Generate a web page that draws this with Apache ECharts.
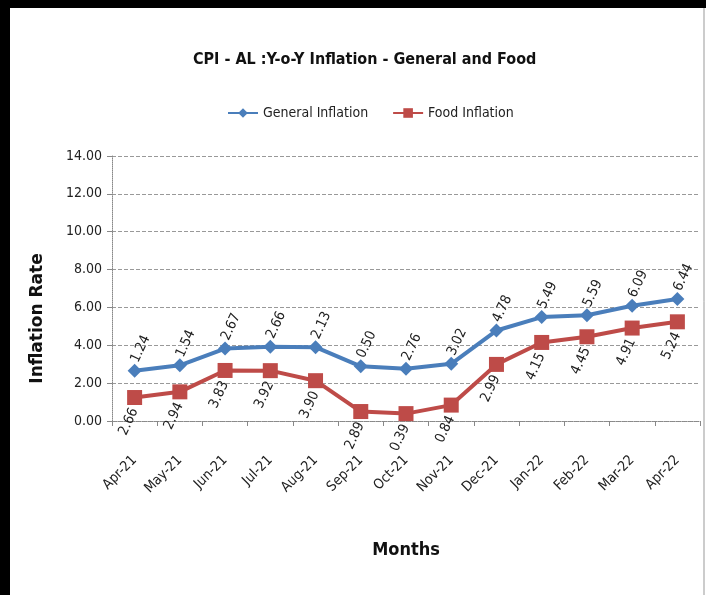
<!DOCTYPE html>
<html>
<head>
<meta charset="utf-8">
<script src="https://cdn.jsdelivr.net/npm/echarts@6/dist/echarts.min.js"></script>
<style>
  html, body { margin: 0; padding: 0; background: #fff; }
  #chart { width: 706px; height: 595px; }
</style>
</head>
<body>
<div id="chart"></div>
<script>
const months = ['Apr-21', 'May-21', 'Jun-21', 'Jul-21', 'Aug-21', 'Sep-21', 'Oct-21',
  'Nov-21', 'Dec-21', 'Jan-22', 'Feb-22', 'Mar-22', 'Apr-22']
const generalInflation = [2.66, 2.94, 3.83, 3.92, 3.90, 2.89, 2.76, 3.02, 4.78, 5.49, 5.59, 6.09, 6.44]
const foodInflation = [1.24, 1.54, 2.67, 2.66, 2.13, 0.50, 0.39, 0.84, 2.99, 4.15, 4.45, 4.91, 5.24]
// label texts as printed in the source (first months are swapped between lines)
const generalLabels = ['1.24', '1.54', '2.67', '2.66', '2.13', '0.50', '2.76', '3.02', '4.78', '5.49', '5.59', '6.09', '6.44']
const foodLabels = ['2.66', '2.94', '3.83', '3.92', '3.90', '2.89', '0.39', '0.84', '2.99', '4.15', '4.45', '4.91', '5.24']
const yTicks = [0, 14, 2]

const narrow = '"Liberation Sans Narrow", "DejaVu Sans Condensed", Roboto, sans-serif'

const chart = echarts.init(document.getElementById('chart'), null, { renderer: 'canvas' })

chart.setOption({
  backgroundColor: '#fff',
  animation: false,
  title: {
    text: 'CPI - AL :Y-o-Y Inflation - General and Food',
    left: 188,
    top: 47,
    textStyle: { fontFamily: narrow, fontSize: 16, fontWeight: 'bold', color: '#111' }
  },
  legend: {
    top: 101,
    left: 222,
    itemWidth: 30,
    itemHeight: 12,
    itemGap: 24,
    textStyle: { fontFamily: narrow, fontSize: 14, color: '#222' },
    data: ['General Inflation', 'Food Inflation']
  },
  graphic: [
    { type: 'rect', shape: { x: 0, y: 0, width: 10, height: 595 }, style: { fill: '#000' } },
    { type: 'rect', shape: { x: 0, y: 0, width: 706, height: 8 }, style: { fill: '#000' } },
    { type: 'line', shape: { x1: 704, y1: 8, x2: 704, y2: 595 }, style: { stroke: '#999', lineWidth: 1 } }
  ],
  grid: { left: 112, right: 6, top: 156, bottom: 174 },
  xAxis: {
    type: 'category',
    data: months,
    boundaryGap: true,
    name: 'Months',
    nameLocation: 'middle',
    nameGap: 120,
    nameTextStyle: { fontFamily: narrow, fontSize: 18, fontWeight: 'bold', color: '#111' },
    axisLine: { lineStyle: { color: '#888', type: 'dotted' } },
    axisTick: { show: true, length: 5, lineStyle: { color: '#888' } },
    axisLabel: {
      rotate: 45,
      margin: 37,
      fontFamily: narrow,
      fontSize: 14,
      color: '#222',
      interval: 0
    }
  },
  yAxis: {
    type: 'value',
    min: yTicks[0],
    max: yTicks[1],
    interval: yTicks[2],
    name: 'Inflation Rate',
    nameLocation: 'middle',
    nameRotate: 90,
    nameGap: 66,
    nameTextStyle: {
      fontFamily: '"DejaVu Sans", Verdana, sans-serif',
      fontSize: 17,
      fontWeight: 'bold',
      color: '#111',
      padding: [0, 60, 0, 0]
    },
    axisLine: { show: true, lineStyle: { color: '#888', type: 'dotted' } },
    axisTick: { show: true, length: 5, lineStyle: { color: '#888' } },
    axisLabel: {
      margin: 10,
      fontFamily: narrow,
      fontSize: 14,
      color: '#222',
      formatter: v => v.toFixed(2)
    },
    splitLine: { lineStyle: { color: '#999', type: 'dashed' } }
  },
  series: [
    {
      name: 'General Inflation',
      type: 'line',
      data: generalInflation,
      symbol: 'diamond',
      symbolSize: 14,
      z: 3,
      itemStyle: { color: '#4a7ebb' },
      lineStyle: { color: '#4a7ebb', width: 4 },
      label: {
        show: true,
        position: 'top',
        distance: 2,
        rotate: 65,
        align: 'left',
        verticalAlign: 'middle',
        fontFamily: narrow,
        fontSize: 14,
        color: '#222',
        formatter: p => generalLabels[p.dataIndex]
      }
    },
    {
      name: 'Food Inflation',
      type: 'line',
      data: foodInflation,
      symbol: 'rect',
      symbolSize: 15,
      z: 2,
      itemStyle: { color: '#be4b48' },
      lineStyle: { color: '#be4b48', width: 4 },
      label: {
        show: true,
        position: 'bottom',
        distance: 4,
        rotate: 65,
        align: 'right',
        verticalAlign: 'middle',
        fontFamily: narrow,
        fontSize: 14,
        color: '#222',
        formatter: p => foodLabels[p.dataIndex]
      }
    }
  ]
})
</script>
</body>
</html>
